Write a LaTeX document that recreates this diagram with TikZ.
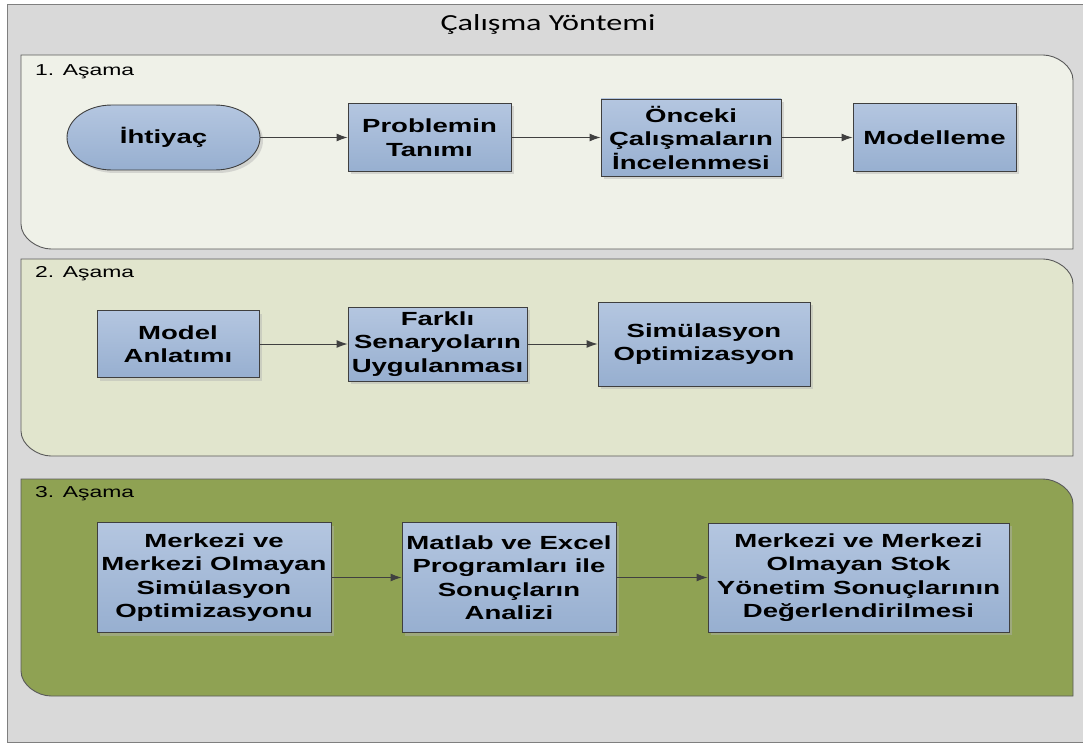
\documentclass[tikz,border=0pt]{standalone}
\usepackage{fontspec}
\setmainfont{Liberation Sans}[FakeStretch=1.45]
\newfontfamily\titlefont{Carlito}[FakeStretch=1.4]
\usetikzlibrary{arrows.meta,shadows}
\definecolor{outerbg}{HTML}{D9D9D9}
\definecolor{outerln}{HTML}{7F7F7F}
\definecolor{laneA}{HTML}{EFF1E8}
\definecolor{laneB}{HTML}{E1E5CD}
\definecolor{laneC}{HTML}{8FA253}
\definecolor{laneln}{HTML}{5A5A5A}
\definecolor{boxtop}{HTML}{B4C6E0}
\definecolor{boxbot}{HTML}{97AFD0}
\definecolor{boxln}{HTML}{3F3F3F}
\definecolor{arrc}{HTML}{404040}
\begin{document}
\begin{tikzpicture}[x=1pt,y=-1pt,
  lane/.style={draw=laneln, line width=0.9pt},
  boxtxt/.style={font=\bfseries\fontsize{19}{23.5}\selectfont, align=center, inner sep=0pt},
  procbox/.style={boxtxt, rectangle, draw=boxln, line width=0.9pt, top color=boxtop, bottom color=boxbot,
    drop shadow={shadow xshift=3pt, shadow yshift=-3pt, opacity=0.45, fill=black!30}},
  lanelabel/.style={font=\fontsize{15.8}{18}\selectfont, anchor=west, inner sep=0pt},
  arr/.style={draw=arrc, line width=1pt, -{Latex[length=11pt,width=8pt]}}
]
\useasboundingbox (0,0) rectangle (1083,743);
\clip (0,0) rectangle (1083,743);
% outer frame
\path[fill=outerbg, draw=outerln, line width=1pt] (7,5) rectangle (1100,742);
\node[font=\titlefont\fontsize{23}{26}\selectfont, inner sep=0pt] (title) at (548,24) {Çalışma Yöntemi};

% lanes
\path[lane, fill=laneA] (21,55) -- (1043,55) .. controls (1056.5,55) and (1073,66) .. (1073,80)
  -- (1073,249) -- (51,249) .. controls (37.5,249) and (21,238) .. (21,224) -- cycle;
\path[lane, fill=laneB] (21,259) -- (1043,259) .. controls (1056.5,259) and (1073,270) .. (1073,284)
  -- (1073,456) -- (51,456) .. controls (37.5,456) and (21,445) .. (21,431) -- cycle;
\path[lane, fill=laneC] (21,479) -- (1043,479) .. controls (1056.5,479) and (1073,490) .. (1073,504)
  -- (1073,696) -- (51,696) .. controls (37.5,696) and (21,685) .. (21,671) -- cycle;

\node[lanelabel] (l1) at (35,72) {1. Aşama};
\node[lanelabel] (l2) at (35,274) {2. Aşama};
\node[lanelabel] (l3) at (35,494) {3. Aşama};

% stadium shape for İhtiyaç
\path[fill=black!30, opacity=0.45, shift={(3,3)}] (112,105) -- (215,105)
  arc[start angle=-90, end angle=90, x radius=45, y radius=32.5] -- (112,170)
  arc[start angle=90, end angle=270, x radius=45, y radius=32.5] -- cycle;
\path[draw=boxln, line width=0.9pt, top color=boxtop, bottom color=boxbot] (112,105) -- (215,105)
  arc[start angle=-90, end angle=90, x radius=45, y radius=32.5] -- (112,170)
  arc[start angle=90, end angle=270, x radius=45, y radius=32.5] -- cycle;
\node[boxtxt, minimum width=193pt, minimum height=65pt] (ihtiyac) at (163.5,137.5) {İhtiyaç};

% lane 1 boxes
\node[procbox, minimum width=163pt, minimum height=68pt] (problem) at (429.5,137.5) {Problemin\\Tanımı};
\node[procbox, minimum width=180pt, minimum height=77pt] (onceki) at (691,137.5) {Önceki\\Çalışmaların\\İncelenmesi};
\node[procbox, minimum width=163pt, minimum height=68pt] (model) at (934.5,137.5) {Modelleme};

% lane 2 boxes
\node[procbox, minimum width=162pt, minimum height=67pt] (anlatim) at (178,344) {Model\\Anlatımı};
\node[procbox, minimum width=179pt, minimum height=74pt] (farkli) at (437.5,344) {Farklı\\Senaryoların\\Uygulanması};
\node[procbox, minimum width=212pt, minimum height=84pt] (simopt) at (704,344) {Simülasyon\\Optimizasyon};

% lane 3 boxes
\node[procbox, minimum width=234pt, minimum height=110pt] (merk) at (214,577.5) {Merkezi ve\\Merkezi Olmayan\\Simülasyon\\Optimizasyonu};
\node[procbox, minimum width=214pt, minimum height=110pt] (matlab) at (509,577.5) {Matlab ve Excel\\Programları ile\\Sonuçların\\Analizi};
\node[procbox, minimum width=301pt, minimum height=109pt] (stok) at (858.5,577.5) {Merkezi ve Merkezi\\Olmayan Stok\\Yönetim Sonuçlarının\\Değerlendirilmesi};

% connectors
\draw[arr] (ihtiyac) -- (problem);
\draw[arr] (problem) -- (onceki);
\draw[arr] (onceki) -- (model);
\draw[arr] (anlatim) -- (farkli);
\draw[arr] (farkli) -- (simopt);
\draw[arr] (merk) -- (matlab);
\draw[arr] (matlab) -- (stok);
\end{tikzpicture}
\end{document}
